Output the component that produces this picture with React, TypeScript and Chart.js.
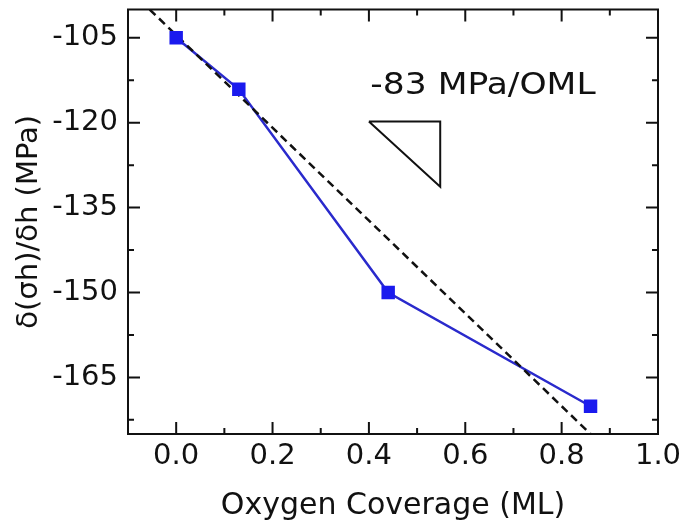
import React, { useEffect, useRef } from "react";
import { Chart, registerables } from "chart.js";

Chart.register(...registerables);

// Measured data
const coverage = [0.0, 0.13, 0.44, 0.86];
const stressDeriv = [-105, -114.1, -150, -170.1];

// Linear fit (dashed), endpoints at plot edges
const fitX = [-0.055, 0.86];
const fitY = [-100, -175];

// Slope triangle
const triX = [0.4, 0.548, 0.548, 0.4];
const triY = [-119.8, -119.8, -131.3, -119.8];

// Axis ticks
const xTickValues = [0.0, 0.2, 0.4, 0.6, 0.8, 1.0];
const xMinorValues = [0.1, 0.3, 0.5, 0.7, 0.9];
const yTickValues = [-165, -150, -135, -120, -105];
const yMinorValues = [-172.5, -157.5, -142.5, -127.5, -112.5];

const annotationText = "-83 MPa/OML";
const annotationX = 0.403;
const annotationY = -114.9;

const FONT = '"DejaVu Sans", sans-serif';

const framePlugin = {
  id: "frameTicks",
  afterDatasetsDraw(chart: any) {
    const { ctx, chartArea: a, scales } = chart;
    const xs = scales.x;
    const ys = scales.y;
    ctx.save();
    ctx.strokeStyle = "#111";
    ctx.lineWidth = 2;
    ctx.strokeRect(a.left, a.top, a.right - a.left, a.bottom - a.top);
    const majorLen = 12;
    const minorLen = 6;
    ctx.beginPath();
    const xTick = (v: number, len: number) => {
      const px = xs.getPixelForValue(v);
      ctx.moveTo(px, a.bottom);
      ctx.lineTo(px, a.bottom - len);
      ctx.moveTo(px, a.top);
      ctx.lineTo(px, a.top + len);
    };
    const yTick = (v: number, len: number) => {
      const py = ys.getPixelForValue(v);
      ctx.moveTo(a.left, py);
      ctx.lineTo(a.left + len, py);
      ctx.moveTo(a.right, py);
      ctx.lineTo(a.right - len, py);
    };
    xTickValues.forEach((v) => xTick(v, majorLen));
    xMinorValues.forEach((v) => xTick(v, minorLen));
    yTickValues.forEach((v) => yTick(v, majorLen));
    yMinorValues.forEach((v) => yTick(v, minorLen));
    ctx.stroke();

    // annotation text
    const tx = xs.getPixelForValue(annotationX);
    const ty = ys.getPixelForValue(annotationY);
    ctx.translate(tx, ty);
    ctx.scale(1.15, 1);
    ctx.fillStyle = "#111";
    ctx.font = `30px ${FONT}`;
    ctx.textAlign = "left";
    ctx.textBaseline = "alphabetic";
    ctx.fillText(annotationText, 0, 0);
    ctx.restore();
  },
};

export default function App() {
  const canvasRef = useRef<HTMLCanvasElement | null>(null);

  useEffect(() => {
    const canvas = canvasRef.current;
    if (!canvas) return;
    const pts = coverage.map((x, i) => ({ x, y: stressDeriv[i] }));
    const chart = new Chart(canvas, {
      type: "scatter",
      data: {
        datasets: [
          {
            label: "markers",
            data: pts,
            showLine: false,
            pointStyle: "rect",
            pointRadius: 9.5,
            pointBackgroundColor: "#1a1aee",
            pointBorderColor: "#1a1aee",
            pointBorderWidth: 0,
          },
          {
            label: "fit",
            data: fitX.map((x, i) => ({ x, y: fitY[i] })),
            showLine: true,
            borderColor: "#111",
            borderWidth: 2.5,
            borderDash: [8, 5],
            pointRadius: 0,
          },
          {
            label: "data",
            data: pts,
            showLine: true,
            borderColor: "#2a2acc",
            borderWidth: 2.5,
            pointRadius: 0,
          },
          {
            label: "triangle",
            data: triX.map((x, i) => ({ x, y: triY[i] })),
            showLine: true,
            borderColor: "#111",
            borderWidth: 2,
            pointRadius: 0,
            fill: false,
          },
        ],
      },
      options: {
        animation: false,
        responsive: false,
        maintainAspectRatio: false,
        layout: { padding: { top: 9, right: 27, left: 0, bottom: 0 } },
        plugins: {
          legend: { display: false },
          tooltip: { enabled: false },
        },
        scales: {
          x: {
            type: "linear",
            min: -0.1,
            max: 1.0,
            grid: { display: false, drawTicks: false },
            border: { display: false },
            afterBuildTicks: (scale: any) => {
              scale.ticks = xTickValues.map((v) => ({ value: v }));
            },
            afterFit: (scale: any) => {
              scale.height = 90;
              scale.paddingLeft = 0;
              scale.paddingRight = 0;
            },
            ticks: {
              padding: 5,
              color: "#111",
              font: { family: FONT, size: 29 },
              maxRotation: 0,
              callback: (v: any) => Number(v).toFixed(1),
            },
            title: {
              display: true,
              text: "Oxygen Coverage (ML)",
              color: "#111",
              font: { family: FONT, size: 30 },
              padding: { top: 0, bottom: 0 },
            },
          },
          y: {
            type: "linear",
            min: -175,
            max: -100,
            grid: { display: false, drawTicks: false },
            border: { display: false },
            afterBuildTicks: (scale: any) => {
              scale.ticks = yTickValues.map((v) => ({ value: v }));
            },
            afterFit: (scale: any) => {
              scale.width = 128;
              scale.paddingTop = 0;
              scale.paddingBottom = 0;
            },
            ticks: {
              padding: 10,
              color: "#111",
              font: { family: FONT, size: 29 },
              callback: (v: any) => String(v),
            },
            title: {
              display: true,
              text: "δ(σh)/δh (MPa)",
              color: "#111",
              font: { family: FONT, size: 29 },
              padding: { top: 12, bottom: 0 },
            },
          },
        },
      },
      plugins: [framePlugin],
    });
    return () => chart.destroy();
  }, []);

  return (
    <div
      style={{
        position: "fixed",
        left: 0,
        top: 0,
        width: 685,
        height: 524,
        background: "#fff",
      }}
    >
      <canvas
        ref={canvasRef}
        width={685}
        height={524}
        style={{ width: 685, height: 524, display: "block" }}
      />
    </div>
  );
}
